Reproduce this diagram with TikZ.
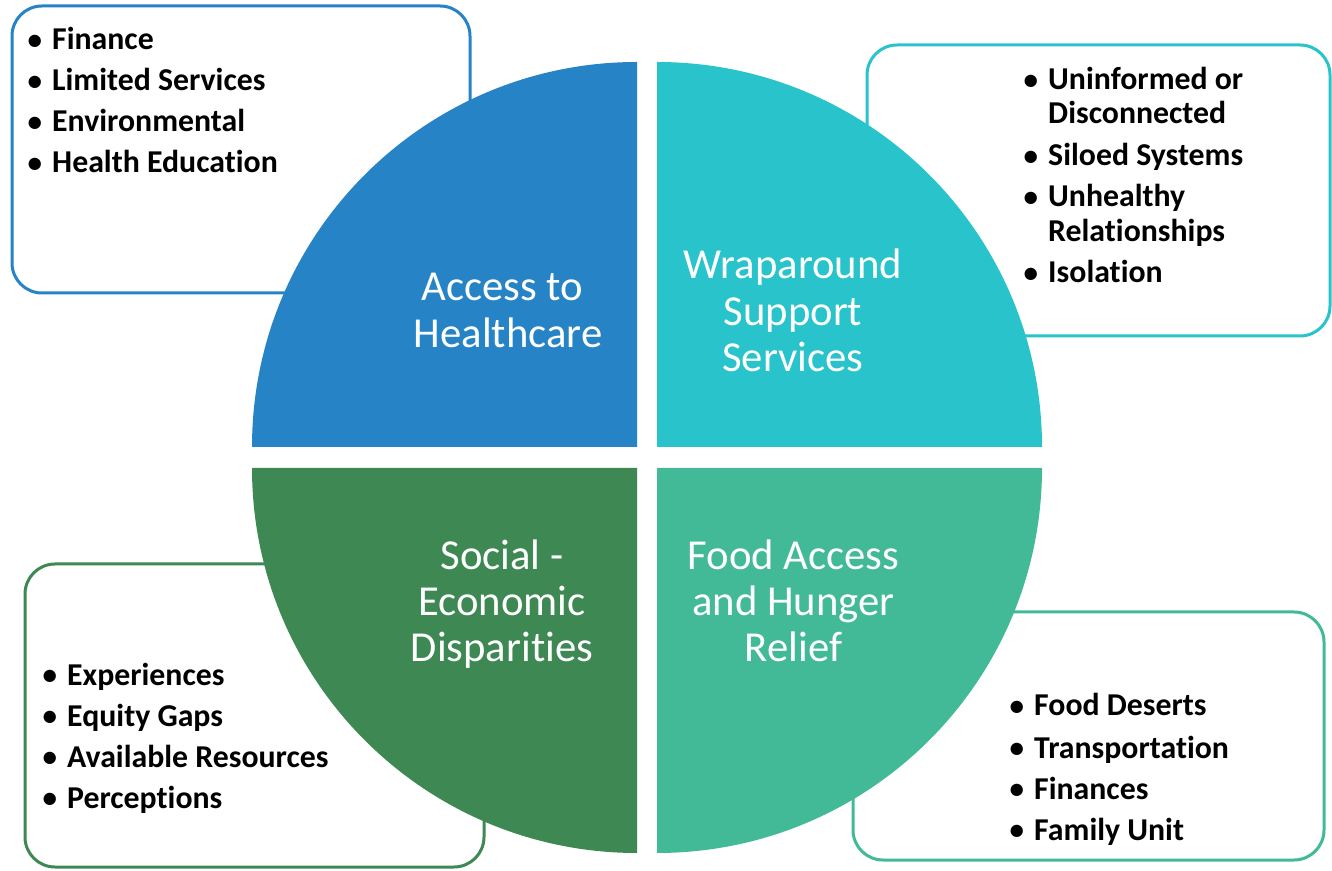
\documentclass[tikz,border=0pt]{standalone}
\usepackage{fontspec}
\setmainfont{Carlito}[Ligatures=NoCommon]
\definecolor{cblue}{HTML}{2683C6}
\definecolor{ccyan}{HTML}{28C3CB}
\definecolor{cgreen}{HTML}{3E8853}
\definecolor{cteal}{HTML}{42BA97}
\newcommand\bul{\llap{\makebox[24.5pt][l]{\fontsize{29}{29}\selectfont\raisebox{0.6pt}{•}}}}
\begin{document}
\begin{tikzpicture}[x=1pt,y=1pt,
  listbox/.style={draw=#1, line width=3pt, fill=white, rounded corners=30pt},
  quad/.style={fill=#1},
  qlabel/.style={text=white, font=\fontsize{42.7}{47}\selectfont, inner sep=0pt, anchor=base},
  item/.style={font=\bfseries\fontsize{31.8}{34.5}\selectfont, inner sep=0pt, anchor=base west},
]
\useasboundingbox[fill=white] (0,0) rectangle (1332,870);
% list boxes
\draw[listbox=cblue]  (12,577) rectangle (470,864);
\draw[listbox=ccyan]  (867,534) rectangle (1330,825);
\draw[listbox=cgreen] (25,3) rectangle (484,306);
\draw[listbox=cteal]  (853,10) rectangle (1324,258);
% quadrants
\fill[quad=cblue]  (637,423) -- ++(-385,0) arc[start angle=180, end angle=90, radius=385pt] -- cycle;
\fill[quad=ccyan]  (657,423) -- ++(0,385) arc[start angle=90, end angle=0, radius=385pt] -- cycle;
\fill[quad=cgreen] (637,402) -- ++(-385,0) arc[start angle=180, end angle=270, radius=385pt] -- cycle;
\fill[quad=cteal]  (657,402) -- ++(385,0) arc[start angle=0, end angle=-90, radius=385pt] -- cycle;
% quadrant labels
\node[qlabel] (qa1) at (502.5,569) {Access to};
\node[qlabel] (qa2) at (508,522) {Healthcare};
\node[qlabel] (qb1) at (793,591) {Wraparound};
\node[qlabel] (qb2) at (793,544) {Support};
\node[qlabel] (qb3) at (793,498) {Services};
\node[qlabel] (qc1) at (502,300) {Social -};
\node[qlabel] (qc2) at (502,254) {Economic};
\node[qlabel] (qc3) at (502,208) {Disparities};
\node[qlabel] (qd1) at (793.5,300) {Food Access};
\node[qlabel] (qd2) at (793.5,254) {and Hunger};
\node[qlabel] (qd3) at (793.5,208) {Relief};
% top-left list
\node[item] (a1) at (52,820) {\bul Finance};
\node[item] (a2) at (52,779) {\bul Limited Services};
\node[item] (a3) at (52,738) {\bul Environmental};
\node[item] (a4) at (52,697) {\bul Health Education};
% top-right list
\node[item] (b1) at (1048,780) {\bul Uninformed or};
\node[item] (b1b) at (1048,746) {Disconnected};
\node[item] (b2) at (1048,704) {\bul Siloed Systems};
\node[item] (b3) at (1048,663) {\bul Unhealthy};
\node[item] (b3b) at (1048,628) {Relationships};
\node[item] (b4) at (1048,587) {\bul Isolation};
% bottom-left list
\node[item] (c1) at (67,185) {\bul Experiences};
\node[item] (c2) at (67,144) {\bul Equity Gaps};
\node[item] (c3) at (67,103) {\bul Available Resources};
\node[item] (c4) at (67,62) {\bul Perceptions};
% bottom-right list
\node[item] (d1) at (1034,154) {\bul Food Deserts};
\node[item] (d2) at (1034,112) {\bul Transportation};
\node[item] (d3) at (1034,71) {\bul Finances};
\node[item] (d4) at (1034,30) {\bul Family Unit};
\end{tikzpicture}
\end{document}
